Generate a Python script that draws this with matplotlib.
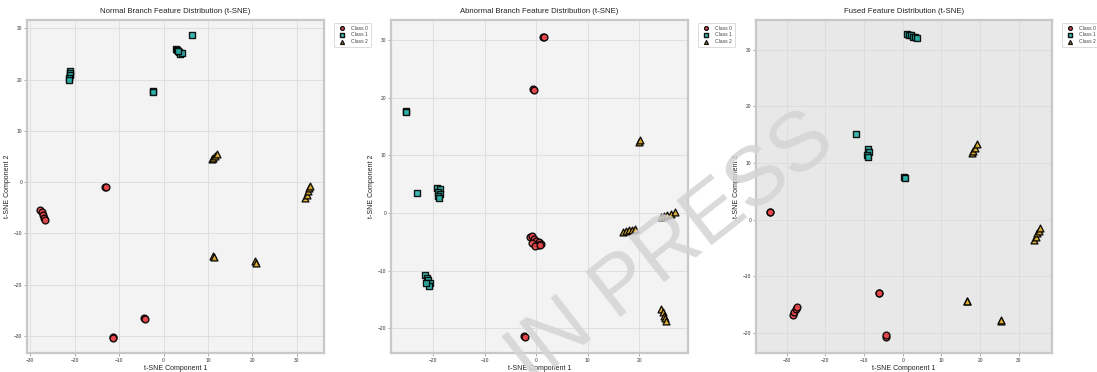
import matplotlib
matplotlib.use("Agg")
import matplotlib.pyplot as plt
from matplotlib.ticker import MultipleLocator

plt.rcParams['font.family'] = ['Liberation Sans', 'DejaVu Sans']

# ---------------------------------------------------------
# Data (t-SNE coordinates per class)
# ---------------------------------------------------------
class_names = ["Class 0", "Class 1", "Class 2"]
class_colors = ["#e8474c", "#2bb3aa", "#e3b02c"]
class_markers = ["o", "s", "^"]

titles = [
    "Normal Branch Feature Distribution (t-SNE)",
    "Abnormal Branch Feature Distribution (t-SNE)",
    "Fused Feature Distribution (t-SNE)",
]

# Normal branch
normal_c0_x = [-13.1, -13.0, -27.7, -27.4, -27.1, -26.8, -26.6, -4.3, -4.2, -11.4, -11.3]
normal_c0_y = [-0.9, -1.0, -5.4, -5.9, -6.4, -6.9, -7.3, -26.4, -26.7, -30.1, -30.3]
normal_c1_x = [-21.0, -21.0, -21.1, -21.2, -21.3, -2.4, -2.3, 2.7, 3.0, 3.4, 3.8, 4.1, 3.3, 6.5]
normal_c1_y = [21.7, 21.3, 20.8, 20.4, 20.0, 17.8, 17.6, 26.0, 25.7, 25.3, 25.0, 25.2, 25.5, 28.6]
normal_c2_x = [10.8, 11.2, 11.6, 12.0, 11.2, 11.3, 20.6, 20.8, 31.9, 32.2, 32.5, 32.8, 33.0]
normal_c2_y = [4.6, 4.8, 5.1, 5.4, -14.4, -14.6, -15.4, -15.7, -3.0, -2.4, -1.8, -1.2, -0.7]

# Abnormal branch
abnormal_c0_x = [1.4, 1.5, -0.6, -0.5, -1.2, -0.8, -0.4, 0.0, 0.5, 1.0, -0.9, 0.3, -0.3, 0.8, -2.3, -2.2]
abnormal_c0_y = [30.6, 30.5, 21.6, 21.4, -4.2, -4.0, -4.5, -4.8, -5.0, -5.3, -5.2, -5.6, -5.8, -5.5, -21.4, -21.6]
abnormal_c1_x = [-25.3, -25.2, -23.2, -19.2, -18.6, -19.0, -18.7, -19.1, -18.9,
                 -21.5, -21.2, -21.0, -20.7, -20.9, -21.4]
abnormal_c1_y = [17.8, 17.6, 3.4, 4.3, 4.2, 3.7, 3.3, 2.9, 2.6,
                 -10.7, -11.2, -11.7, -12.1, -12.6, -12.2]
abnormal_c2_x = [20.0, 20.1, 16.8, 17.4, 18.0, 18.6, 19.2, 24.3, 24.9, 25.5, 26.2, 26.9,
                 24.3, 24.6, 24.8, 25.0, 25.2]
abnormal_c2_y = [12.4, 12.6, -3.3, -3.1, -3.0, -2.9, -2.7, -0.6, -0.5, -0.3, -0.2, 0.1,
                 -16.6, -17.2, -17.8, -18.3, -18.8]

# Fused features
fused_c0_x = [-34.3, -34.2, -28.4, -28.0, -27.6, -27.2, -6.2, -6.1, -4.4, -4.3]
fused_c0_y = [1.3, 1.4, -16.8, -16.3, -15.8, -15.3, -13.0, -12.9, -20.6, -20.4]
fused_c1_x = [1.2, 1.7, 2.2, 2.7, 3.2, 3.7, -12.0, -9.0, -8.8, -9.1, -8.9, 0.4, 0.5]
fused_c1_y = [32.8, 32.6, 32.5, 32.3, 32.2, 32.1, 15.2, 12.4, 12.0, 11.5, 11.0, 7.6, 7.4]
fused_c2_x = [17.9, 18.3, 18.7, 19.2, 16.6, 16.7, 25.3, 25.4, 34.0, 34.4, 34.8, 35.2, 35.4]
fused_c2_y = [11.8, 12.2, 12.7, 13.3, -14.4, -14.3, -17.8, -17.7, -3.5, -3.0, -2.4, -1.9, -1.5]

panels = [
    [(normal_c0_x, normal_c0_y), (normal_c1_x, normal_c1_y), (normal_c2_x, normal_c2_y)],
    [(abnormal_c0_x, abnormal_c0_y), (abnormal_c1_x, abnormal_c1_y), (abnormal_c2_x, abnormal_c2_y)],
    [(fused_c0_x, fused_c0_y), (fused_c1_x, fused_c1_y), (fused_c2_x, fused_c2_y)],
]

x_limits = [(-30.7, 36.1), (-28.2, 29.5), (-37.9, 38.6)]
y_limits = [(-33.3, 31.6), (-24.3, 33.5), (-23.5, 35.2)]
face_colors = ["#f3f3f3", "#f3f3f3", "#e8e8e8"]

# ---------------------------------------------------------
# Plot
# ---------------------------------------------------------
fig = plt.figure(figsize=(10.97, 3.72), dpi=100)

axes_boxes = [
    [0.0246, 0.051, 0.2708, 0.895],
    [0.3564, 0.051, 0.2708, 0.895],
    [0.6892, 0.051, 0.2698, 0.895],
]

for i, box in enumerate(axes_boxes):
    ax = fig.add_axes(box)
    ax.set_facecolor(face_colors[i])

    for k in range(3):
        xs, ys = panels[i][k]
        ax.scatter(xs, ys, s=24, c=class_colors[k], marker=class_markers[k],
                   edgecolors="black", linewidths=1.0, alpha=0.9,
                   label=class_names[k], zorder=3)

    ax.set_xlim(*x_limits[i])
    ax.set_ylim(*y_limits[i])
    ax.xaxis.set_major_locator(MultipleLocator(10))
    ax.yaxis.set_major_locator(MultipleLocator(10))

    ax.grid(True, color="#dcdcdc", linewidth=0.6, zorder=0)
    ax.set_axisbelow(True)
    for sp in ax.spines.values():
        sp.set_color("#c8c8c8")
        sp.set_linewidth(1.6)

    ax.tick_params(labelsize=3.5, length=2, width=0.5, color="#888888",
                   labelcolor="#333333", pad=1.5)

    ax.set_title(titles[i], fontsize=5.6, pad=5, color="#222222")
    ax.set_xlabel("t-SNE Component 1", fontsize=5.0, labelpad=1.5, color="#222222")
    ax.set_ylabel("t-SNE Component 2", fontsize=5.0, labelpad=2, color="#222222")

    leg = ax.legend(loc="upper left", bbox_to_anchor=(1.025, 1.0), fontsize=3.6,
                    frameon=True, markerscale=0.55, handletextpad=0.8,
                    borderpad=0.6, labelspacing=0.35, shadow=False)
    leg.get_frame().set_edgecolor("#cccccc")
    leg.get_frame().set_linewidth(0.6)
    for t in leg.get_texts():
        t.set_color("#444444")

# watermark
fig.text(0.612, 0.33, "IN PRESS", fontsize=60, color="#d4d4d4", alpha=0.85,
         rotation=38, ha="center", va="center", zorder=10)

fig.savefig("out.png", dpi=100)
